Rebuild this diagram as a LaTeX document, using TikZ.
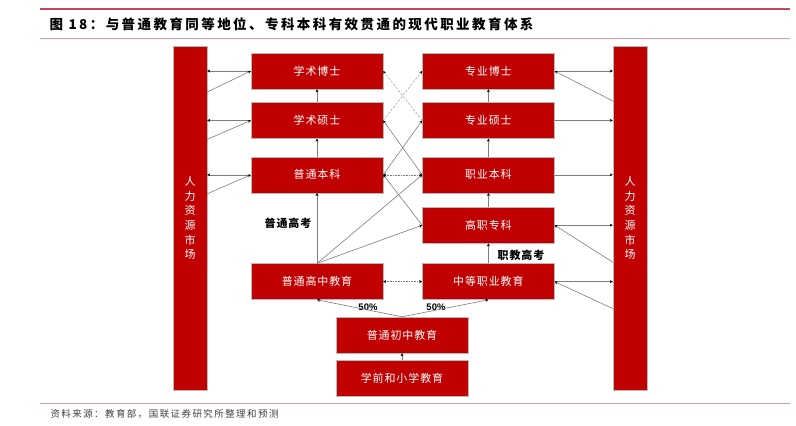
\documentclass[tikz,border=0pt]{standalone}
\usepackage{fontspec}
\setmainfont{Noto Sans CJK SC}
\newfontfamily\boxfont[LetterSpace=8]{Noto Sans CJK SC}
\newfontfamily\titlefont[LetterSpace=18]{Noto Sans CJK SC}
\newfontfamily\notefont[LetterSpace=15]{Noto Sans CJK SC}
\newfontfamily\numfont{Liberation Sans}
\usepackage{xcolor}
\usetikzlibrary{arrows.meta,positioning,calc}
\definecolor{boxred}{RGB}{192,0,0}
\definecolor{rulered}{RGB}{200,70,90}
\definecolor{rulepink}{RGB}{228,150,160}
\definecolor{linegray}{RGB}{125,125,125}

\begin{document}
\begin{tikzpicture}[x=1pt, y=-1pt,
        block/.style={rectangle, draw=gray!55, fill=boxred, minimum width=132pt, minimum height=36pt, inner sep=0pt, text=white, font=\boxfont\fontsize{11}{13}\selectfont},
        market/.style={rectangle, draw=gray!55, fill=boxred, minimum width=34pt, minimum height=344pt, inner sep=0pt, text=white, align=center, font=\boxfont\fontsize{11}{14.6}\selectfont},
        arrow/.style={->, >={Stealth[length=3pt, width=3pt, black]}, line width=0.6pt, draw=linegray},
        biarrow/.style={arrow, <->},
        exam/.style={font=\boxfont\fontsize{11}{13}\selectfont\bfseries},
        pct/.style={font=\numfont\fontsize{9.5}{11}\selectfont\bfseries}
    ]
        \useasboundingbox (0,0) rectangle (796,426);
        \draw[rulered, line width=1.5pt] (40,9) -- (790,9);
        \draw[rulepink, line width=0.8pt] (40,38) -- (790,38);
        \draw[rulepink, line width=0.8pt] (40,403) -- (790,403);
        \node[anchor=west, font=\titlefont\fontsize{13.5}{15}\selectfont\bfseries] (title) at (46,24) {图 18：与普通教育同等地位、专科本科有效贯通的现代职业教育体系};
        \node[anchor=west, text=black!75, font=\notefont\fontsize{9.5}{11}\selectfont] (source) at (47,414) {资料来源：教育部，国联证券研究所整理和预测};

        \node[market] (lmkt) at (190,218) {人\\力\\资\\源\\市\\场};
        \node[market] (rmkt) at (630,218) {人\\力\\资\\源\\市\\场};
        \node[block] (xsbs) at (317,71) {学术博士};
        \node[block, below=13pt of xsbs] (xsss) {学术硕士};
        \node[block, below=18pt of xsss] (ptbk) {普通本科};
        \node[block, right=39pt of xsbs] (zybs) {专业博士};
        \node[block, right=39pt of xsss] (zyss) {专业硕士};
        \node[block, right=39pt of ptbk] (zybk) {职业本科};
        \node[block, below=14pt of zybk] (gzzk) {高职专科};
        \node[block, below=20pt of gzzk] (zdzy) {中等职业教育};
        \node[block, left=39pt of zdzy] (ptgz) {普通高中教育};
        \node[block] (ptcz) at (402,335) {普通初中教育};
        \node[block, below=7pt of ptcz] (xqxx) {学前和小学教育};
        \node[exam] (ptgk) at (288,223) {普通高考};
        \node[exam] (zjgk) at (521,255) {职教高考};
        \node[pct] (pctl) at (368,307) {50\%};
        \node[pct] (pctr) at (436,307) {50\%};

        \draw[arrow] (xsbs.west) -- (xsbs.west -| lmkt.east);
        \draw[arrow] ($(xsbs.west -| lmkt.east)+(0,21)$) -- (xsbs.west);
        \draw[arrow] (xsss.west) -- (xsss.west -| lmkt.east);
        \draw[arrow] ($(xsss.west -| lmkt.east)+(0,19)$) -- (xsss.west);
        \draw[arrow] (ptbk.west) -- (ptbk.west -| lmkt.east);
        \draw[arrow] ($(ptbk.west -| lmkt.east)+(0,19)$) -- (ptbk.west);

        \draw[arrow] (zybs.east) -- (zybs.east -| rmkt.west);
        \draw[arrow] ($(zybs.east -| rmkt.west)+(0,30)$) -- (zybs.east);
        \draw[arrow] (zyss.east) -- (zyss.east -| rmkt.west);
        \draw[arrow] (zybk.east) -- (zybk.east -| rmkt.west);
        \draw[arrow] (gzzk.east) -- (gzzk.east -| rmkt.west);
        \draw[arrow] ($(gzzk.east -| rmkt.west)+(0,37)$) -- (gzzk.east);
        \draw[arrow] (zdzy.east) -- (zdzy.east -| rmkt.west);
        \draw[arrow] ($(zdzy.east -| rmkt.west)+(0,27)$) -- (zdzy.east);

        \foreach \from/\to in {xsss/xsbs, ptbk/xsss, ptgz/ptbk, zyss/zybs, zybk/zyss, gzzk/zybk, zdzy/gzzk, xqxx/ptcz}
            \draw[arrow] (\from) -- (\to);

        \draw[arrow, gray!70, dash pattern=on 2.5pt off 1.5pt] (zyss.west) -- (xsbs.east);
        \draw[arrow, gray!70, dash pattern=on 2.5pt off 1.5pt] (xsss.east) -- (zybs.west);
        \draw[arrow] (zybk.west) -- (xsss.east);
        \draw[arrow] (ptbk.east) -- (zyss.west);
        \draw[biarrow, densely dotted] (ptbk) -- (zybk);
        \draw[arrow] (gzzk.west) -- (ptbk.east);
        \draw[arrow] (ptgz.north) -- (zybk.west);
        \draw[arrow] (ptgz.north) -- (gzzk.west);
        \draw[biarrow, densely dotted] (ptgz) -- (zdzy);
        \draw[arrow] (ptcz.north) -- (ptgz.south);
        \draw[arrow] (ptcz.north) -- (zdzy.south);
    \end{tikzpicture}
\end{document}
